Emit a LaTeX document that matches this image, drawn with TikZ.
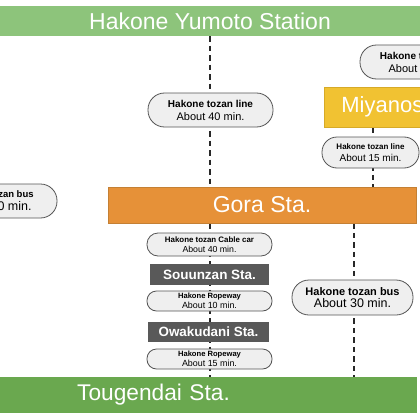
\documentclass[tikz,border=0pt]{standalone}
\usepackage{fontspec}
\setmainfont{Liberation Sans}
\usetikzlibrary{backgrounds}
\definecolor{topgreen}{RGB}{141,196,123}
\definecolor{botgreen}{RGB}{106,168,79}
\definecolor{goraorange}{RGB}{230,145,56}
\definecolor{goraborder}{RGB}{196,128,52}
\definecolor{miyagold}{RGB}{241,194,50}
\definecolor{miyaborder}{RGB}{214,170,40}
\definecolor{stagray}{RGB}{89,89,89}
\definecolor{pillfill}{RGB}{239,239,239}
\definecolor{pillborder}{RGB}{85,85,85}
\definecolor{dashcol}{RGB}{40,40,40}
\tikzset{
  bar/.style={inner sep=0pt, text=white},
  pill/.style={draw=pillborder, fill=pillfill, line width=0.8pt, inner sep=0pt, align=center, rounded corners=#1},
  stabox/.style={fill=stagray, inner sep=0pt, text=white, font=\bfseries},
  dashline/.style={draw=dashcol, line width=1.5pt, dash pattern=on 5.5pt off 4pt}
}
\begin{document}
\begin{tikzpicture}[x=1pt,y=-1pt]
\useasboundingbox (0,0) rectangle (420,420);
\clip (0,0) rectangle (420,420);
\begin{pgfonlayer}{background}
\fill[white] (0,0) rectangle (420,420);
\end{pgfonlayer}

% station bars
\node[bar, fill=topgreen, minimum width=422pt, minimum height=30pt, font=\fontsize{23}{26}\selectfont] (yumoto) at (210,21) {Hakone Yumoto Station};
\node[bar, fill=goraorange, draw=goraborder, line width=0.8pt, minimum width=308pt, minimum height=36pt, font=\fontsize{23}{26}\selectfont] (gora) at (262,205) {Gora Sta.};
\node[bar, fill=botgreen, minimum height=36pt, inner xsep=77pt, text width=263pt, align=left, anchor=west, font=\fontsize{22.7}{26}\selectfont] (tougen) at (0,395) {Tougendai Sta.};
\node[bar, fill=miyagold, draw=miyaborder, line width=0.8pt, minimum height=40pt, inner xsep=17pt, anchor=west, font=\fontsize{22}{26}\selectfont] (miya) at (324,107) {Miyanoshita Sta.};

% gray stations
\node[stabox, minimum width=119pt, minimum height=21pt, font=\fontsize{13.5}{16}\selectfont\bfseries] (souun) at (209.5,274.5) {Souunzan Sta.};
\node[stabox, minimum width=121pt, minimum height=20pt, font=\fontsize{13.4}{16}\selectfont\bfseries] (owaku) at (208.5,332) {Owakudani Sta.};

% pills
\node[pill=16.5pt, minimum width=125pt, minimum height=34pt, font=\fontsize{10}{13}\selectfont] (pA) at (210.5,110)
  {{\fontsize{10}{10}\selectfont\bfseries Hakone tozan line}\\{\fontsize{11}{11}\selectfont About 40 min.}};
\node[pill=15pt, minimum width=97pt, minimum height=31pt, font=\fontsize{9}{12}\selectfont] (pB) at (370.5,152.5)
  {{\fontsize{8}{8}\selectfont\bfseries Hakone tozan line}\\{\fontsize{10}{10}\selectfont About 15 min.}};
\node[pill=16.5pt, minimum width=125pt, minimum height=34pt, font=\fontsize{10}{13}\selectfont] (pC) at (422.5,62)
  {{\fontsize{10}{10}\selectfont\bfseries Hakone tozan line}\\{\fontsize{11}{11}\selectfont About 25 min.}};
\node[pill=16.5pt, minimum width=128pt, minimum height=34pt, font=\fontsize{10}{13}\selectfont] (pD) at (-7,201)
  {{\fontsize{9.5}{9.5}\selectfont\bfseries Hakone tozan bus}\\{\fontsize{12.5}{12.5}\selectfont About 20 min.}};
\node[pill=17pt, minimum width=121pt, minimum height=35pt, font=\fontsize{10}{12.5}\selectfont] (pE) at (352.5,297.5)
  {{\fontsize{11}{11}\selectfont\bfseries Hakone tozan bus}\\{\fontsize{12.5}{12.5}\selectfont About 30 min.}};
\node[pill=11pt, minimum width=125pt, minimum height=23pt, font=\fontsize{8}{10}\selectfont] (pF) at (209.5,244.5)
  {{\fontsize{7.9}{7.9}\selectfont\bfseries Hakone tozan Cable car}\\{\fontsize{8.75}{8.75}\selectfont About 40 min.}};
\node[pill=9.5pt, minimum width=125pt, minimum height=20pt, font=\fontsize{8}{10}\selectfont] (pG) at (209.5,301)
  {{\fontsize{7.6}{7.6}\selectfont\bfseries Hakone Ropeway}\\{\fontsize{8.9}{8.9}\selectfont About 10 min.}};
\node[pill=9.5pt, minimum width=125pt, minimum height=20pt, font=\fontsize{8}{9.5}\selectfont] (pH) at (209.5,359)
  {{\fontsize{7.6}{7.6}\selectfont\bfseries Hakone Ropeway}\\{\fontsize{8.9}{8.9}\selectfont About 15 min.}};

% line positions
\coordinate (xL) at (210,0);
\coordinate (xM) at (373,0);
\coordinate (xR) at (354,0);

\begin{pgfonlayer}{background}
\draw[dashline] (yumoto.south -| xL) -- (gora.north -| xL);
\draw[dashline] (miya.south -| xM) -- (gora.north -| xM);
\draw[dashline] (gora.south -| xL) -- (tougen.north -| xL);
\draw[dashline] (gora.south -| xR) -- (tougen.north -| xR);
\end{pgfonlayer}
\end{tikzpicture}
\end{document}
